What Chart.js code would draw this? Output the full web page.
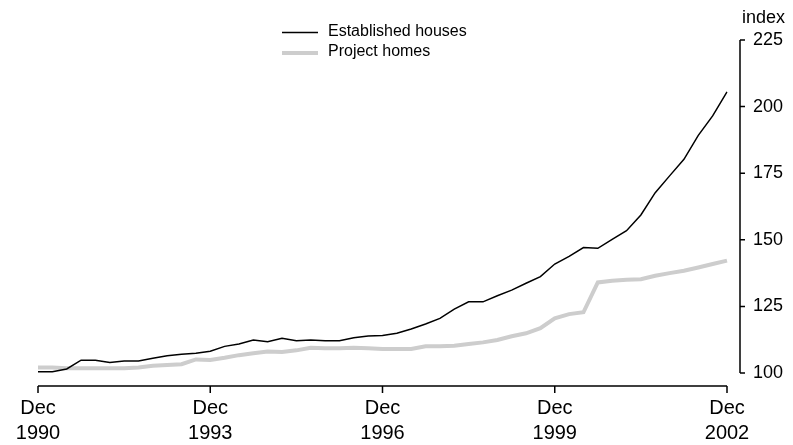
<!DOCTYPE html>
<html lang="en">
<head>
    <meta charset="UTF-8">
    <title>House price indexes</title>
    <style>
        body { margin: 0; background: #fff; }
    </style>
</head>
<body>
    <canvas id="myChart" width="793" height="445"></canvas>

    <script src="https://cdn.jsdelivr.net/npm/chart.js@4"></script>
    <script>
        // quarterly, Dec 1990 to Dec 2002
        let quarters = [
            'Dec 1990',
            'Mar 1991', 'Jun 1991', 'Sep 1991', 'Dec 1991',
            'Mar 1992', 'Jun 1992', 'Sep 1992', 'Dec 1992',
            'Mar 1993', 'Jun 1993', 'Sep 1993', 'Dec 1993',
            'Mar 1994', 'Jun 1994', 'Sep 1994', 'Dec 1994',
            'Mar 1995', 'Jun 1995', 'Sep 1995', 'Dec 1995',
            'Mar 1996', 'Jun 1996', 'Sep 1996', 'Dec 1996',
            'Mar 1997', 'Jun 1997', 'Sep 1997', 'Dec 1997',
            'Mar 1998', 'Jun 1998', 'Sep 1998', 'Dec 1998',
            'Mar 1999', 'Jun 1999', 'Sep 1999', 'Dec 1999',
            'Mar 2000', 'Jun 2000', 'Sep 2000', 'Dec 2000',
            'Mar 2001', 'Jun 2001', 'Sep 2001', 'Dec 2001',
            'Mar 2002', 'Jun 2002', 'Sep 2002', 'Dec 2002'
        ];
        let established = [
            100.5,
            100.5, 101.5, 104.8, 104.8,
            103.9, 104.5, 104.5, 105.5,
            106.5, 107.0, 107.4, 108.2,
            110.0, 110.9, 112.4, 111.7,
            113.0, 112.1, 112.4, 112.1,
            112.1, 113.2, 113.9, 114.1,
            114.9, 116.5, 118.4, 120.5,
            124.0, 126.7, 126.7, 129.0,
            131.1, 133.7, 136.2, 140.9,
            143.8, 147.1, 146.8, 150.2,
            153.4, 159.3, 167.7, 174.0,
            180.2, 189.2, 196.5, 205.5
        ];
        let projectHomes = [
            102.1,
            102.1, 101.8, 101.8, 101.8,
            101.8, 101.8, 102.1, 102.7,
            103.0, 103.3, 105.1, 104.9,
            105.7, 106.7, 107.4, 108.1,
            107.9, 108.5, 109.5, 109.3,
            109.3, 109.5, 109.3, 109.0,
            109.0, 109.0, 110.0, 110.0,
            110.2, 110.9, 111.5, 112.4,
            113.8, 114.9, 116.8, 120.5,
            122.1, 122.8, 134.0, 134.6,
            135.0, 135.2, 136.5, 137.5,
            138.4, 139.6, 140.9, 142.2
        ];
        let seriesNames = ['Established houses', 'Project homes'];
        let yTicks = [100, 125, 150, 175, 200, 225];
        let labelEvery = 12; // one labelled tick every three years

        let fontFamily = "'Liberation Sans', Arial, sans-serif";

        // hand-drawn axes: x axis sits a little below the 100 line, y axis right of the plot
        let axesPlugin = {
            id: 'axes',
            afterDraw(chart) {
                let ctx = chart.ctx;
                let area = chart.chartArea;
                let x = chart.scales.x;
                let y = chart.scales.y;
                ctx.save();
                ctx.strokeStyle = '#000';
                ctx.lineWidth = 1.5;

                let xb = area.bottom + 13;
                ctx.beginPath();
                ctx.moveTo(x.getPixelForValue(0), xb);
                ctx.lineTo(x.getPixelForValue(quarters.length - 1), xb);
                for (let i = 0; i < quarters.length; i += labelEvery) {
                    let px = x.getPixelForValue(i);
                    ctx.moveTo(px, xb);
                    ctx.lineTo(px, xb + 7);
                }
                ctx.stroke();

                let yx = area.right + 13;
                ctx.beginPath();
                ctx.moveTo(yx, y.getPixelForValue(yTicks[0]));
                ctx.lineTo(yx, y.getPixelForValue(yTicks[yTicks.length - 1]));
                yTicks.forEach((v) => {
                    let py = y.getPixelForValue(v);
                    ctx.moveTo(yx, py);
                    ctx.lineTo(yx + 5, py);
                });
                ctx.stroke();

                ctx.fillStyle = '#000';
                ctx.font = '18px ' + fontFamily;
                ctx.textAlign = 'left';
                ctx.textBaseline = 'middle';
                ctx.fillText('index', 742, 18);
                ctx.restore();
            }
        };

        // two-row legend above the plot
        let legendPlugin = {
            id: 'stackedLegend',
            afterDraw(chart) {
                let ctx = chart.ctx;
                ctx.save();
                ctx.font = '16px ' + fontFamily;
                ctx.textAlign = 'left';
                ctx.textBaseline = 'middle';
                chart.data.datasets.forEach((ds, i) => {
                    let ly = 32.5 + i * 20.5;
                    ctx.strokeStyle = ds.borderColor;
                    ctx.lineWidth = ds.borderWidth;
                    ctx.beginPath();
                    ctx.moveTo(282, ly);
                    ctx.lineTo(318, ly);
                    ctx.stroke();
                    ctx.fillStyle = '#000';
                    ctx.fillText(ds.label, 328, ly - 1);
                });
                ctx.restore();
            }
        };

        var ctx = document.getElementById('myChart').getContext('2d');
        var myChart = new Chart(ctx, {
            type: 'line',
            data: {
                labels: quarters,
                datasets: [
                    {label: seriesNames[0], data: established, borderColor: '#000000', borderWidth: 1.5, pointRadius: 0, tension: 0, fill: false},
                    {label: seriesNames[1], data: projectHomes, borderColor: '#cdcdcd', borderWidth: 4, pointRadius: 0, tension: 0, fill: false}
                ]
            },
            options: {
                responsive: false,
                animation: false,
                devicePixelRatio: 1,
                layout: {padding: {left: 38, top: 40, right: 0, bottom: 0}},
                plugins: {legend: {display: false}, tooltip: {enabled: false}},
                scales: {
                    x: {
                        type: 'category',
                        offset: false,
                        grid: {display: false, drawTicks: false},
                        border: {display: false},
                        afterFit: (s) => {
                            s.height = 72;
                            // edge labels may overhang the plot
                            s.paddingLeft = 0;
                            s.paddingRight = 0;
                        },
                        ticks: {
                            autoSkip: false,
                            maxRotation: 0,
                            padding: 23,
                            color: '#000',
                            font: {family: fontFamily, size: 20, lineHeight: 1.25},
                            callback: function (value, index) {
                                if (index % labelEvery !== 0) return null;
                                return quarters[index].split(' ');
                            }
                        }
                    },
                    y: {
                        position: 'right',
                        min: yTicks[0],
                        max: yTicks[yTicks.length - 1],
                        grid: {display: false, drawTicks: false},
                        border: {display: false},
                        afterFit: (s) => { s.width = 66; },
                        afterBuildTicks: (s) => { s.ticks = yTicks.map((v) => ({value: v})); },
                        ticks: {
                            padding: 26,
                            color: '#000',
                            font: {family: fontFamily, size: 18}
                        }
                    }
                }
            },
            plugins: [axesPlugin, legendPlugin]
        });
    </script>
</body>
</html>
